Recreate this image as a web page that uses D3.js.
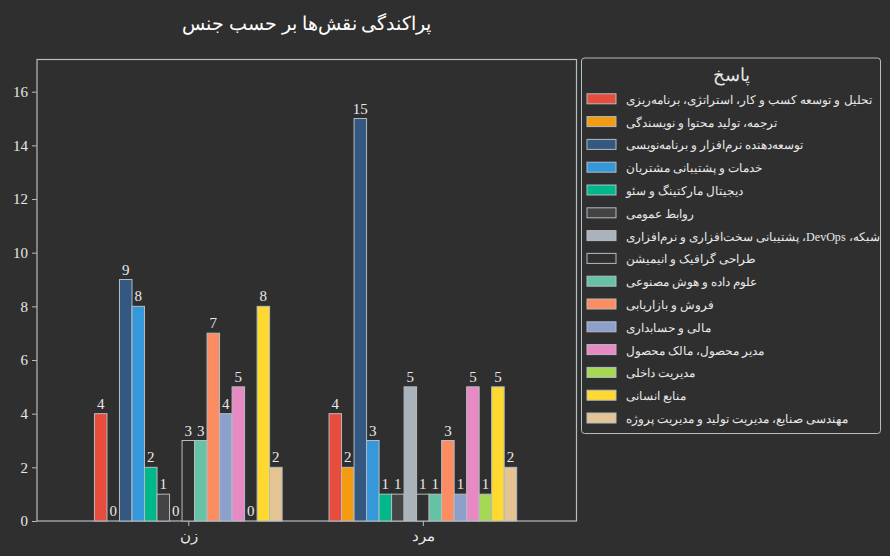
<!DOCTYPE html>
<html><head><meta charset="utf-8">
<script src="https://cdn.jsdelivr.net/npm/d3@7"></script>
<style>
html,body{margin:0;padding:0;background:#2f2f2f;}
svg{display:block;font-family:"Liberation Serif","DejaVu Serif",serif;}
</style></head>
<body>
<svg id="c" width="890" height="556"></svg>
<script>
const groups = ["زن", "مرد"];
const roles = [
  "تحلیل و توسعه کسب و کار، استراتژی، برنامه‌ریزی",
  "ترجمه، تولید محتوا و نویسندگی",
  "توسعه‌دهنده نرم‌افزار و برنامه‌نویسی",
  "خدمات و پشتیبانی مشتریان",
  "دیجیتال مارکتینگ و سئو",
  "روابط عمومی",
  "شبکه، DevOps، پشتیبانی سخت‌افزاری و نرم‌افزاری",
  "طراحی گرافیک و انیمیشن",
  "علوم داده و هوش مصنوعی",
  "فروش و بازاریابی",
  "مالی و حسابداری",
  "مدیر محصول، مالک محصول",
  "مدیریت داخلی",
  "منابع انسانی",
  "مهندسی صنایع، مدیریت تولید و مدیریت پروژه"
];
const valuesWomen = [4, 0, 9, 8, 2, 1, 0, 3, 3, 7, 4, 5, 0, 8, 2];
const valuesMen   = [4, 2, 15, 3, 1, 1, 5, 1, 1, 3, 1, 5, 1, 5, 2];
const colors = ["#e74c3c","#f39c12","#34587f","#3498db","#00b88a","#444444","#aab2ba","#2f2f2f",
                "#66c2a5","#fc8d62","#8da0cb","#e78ac3","#a6d854","#ffd92f","#e5c494"];
const yTicks = [0, 2, 4, 6, 8, 10, 12, 14, 16];
const title = "پراکندگی نقش‌ها بر حسب جنس";
const legendTitle = "پاسخ";

const series = [valuesWomen, valuesMen];
const svg = d3.select("#c");
const W = 890, H = 556;
svg.append("rect").attr("width", W).attr("height", H).attr("fill", "#2f2f2f");

const m = {left: 37, right: 576.5, top: 59.5, bottom: 521};
const axisColor = "#b4bcc4";
const textColor = "#e8e8e8";

const x = d3.scaleLinear().domain([-0.645, 1.655]).range([m.left, m.right]);
const y = d3.scaleLinear().domain([0, 17.2]).range([m.bottom, m.top]);
const groupW = 0.8;
const barW = groupW / roles.length;

// frame
svg.append("rect").attr("x", m.left).attr("y", m.top)
  .attr("width", m.right - m.left).attr("height", m.bottom - m.top)
  .attr("fill", "none").attr("stroke", axisColor).attr("stroke-width", 1.2);

// bars
groups.forEach((g, gi) => {
  const gEl = svg.append("g");
  roles.forEach((r, ri) => {
    const v = series[gi][ri];
    const x0 = x(gi - groupW / 2 + ri * barW);
    const x1 = x(gi - groupW / 2 + (ri + 1) * barW);
    if (v > 0) {
      gEl.append("rect").attr("x", x0).attr("y", y(v))
        .attr("width", x1 - x0).attr("height", y(0) - y(v))
        .attr("fill", colors[ri]).attr("stroke", "#b4bcc4").attr("stroke-width", 1);
    }
    gEl.append("text").attr("x", (x0 + x1) / 2).attr("y", y(v) - 5)
      .attr("text-anchor", "middle").attr("fill", textColor)
      .attr("font-size", 15).text(v);
  });
});

// y axis
const yAxis = d3.axisLeft(y).tickValues(yTicks).tickSize(5).tickPadding(4);
const ya = svg.append("g").attr("transform", `translate(${m.left},0)`).call(yAxis);
ya.select(".domain").remove();
ya.selectAll("line").attr("stroke", axisColor);
ya.selectAll("text").attr("fill", textColor).attr("font-size", 15)
  .attr("font-family", "Liberation Serif, serif");

// x axis
const xAxis = d3.axisBottom(x).tickValues([0, 1]).tickFormat(i => groups[i]).tickSize(5).tickPadding(4);
const xa = svg.append("g").attr("transform", `translate(0,${m.bottom})`).call(xAxis);
xa.select(".domain").remove();
xa.selectAll("line").attr("stroke", axisColor);
xa.selectAll("text").attr("fill", textColor).attr("font-size", 15).attr("direction", "rtl");

// title
svg.append("text").attr("x", (m.left + m.right) / 2).attr("y", 30)
  .attr("text-anchor", "middle").attr("fill", "#ffffff").attr("font-size", 19)
  .attr("direction", "rtl").text(title);

// legend
const lg = svg.append("g");
lg.append("rect").attr("x", 581.5).attr("y", 58).attr("width", 299).attr("height", 375.5)
  .attr("rx", 3).attr("fill", "#2f2f2f").attr("stroke", axisColor).attr("stroke-width", 1);
lg.append("text").attr("x", 731).attr("y", 81).attr("text-anchor", "middle")
  .attr("fill", textColor).attr("font-size", 18).attr("direction", "rtl").text(legendTitle);
const rowY = d3.scaleLinear().domain([0, roles.length - 1]).range([98.8, 418]);
roles.forEach((r, i) => {
  lg.append("rect").attr("x", 587).attr("y", rowY(i) - 5).attr("width", 29).attr("height", 10)
    .attr("fill", colors[i]).attr("stroke", "#b4bcc4").attr("stroke-width", 1);
  const t = lg.append("text").attr("x", 626).attr("y", rowY(i) + 5)
    .attr("direction", "rtl").attr("text-anchor", "end")
    .attr("fill", textColor).attr("font-size", 12.3).text(r);
  // keep text inside the legend frame
  const maxW = 876 - 626;
  const w = t.node().getComputedTextLength();
  if (w > maxW) t.attr("font-size", 12.3 * maxW / w);
});
</script>
</body></html>
